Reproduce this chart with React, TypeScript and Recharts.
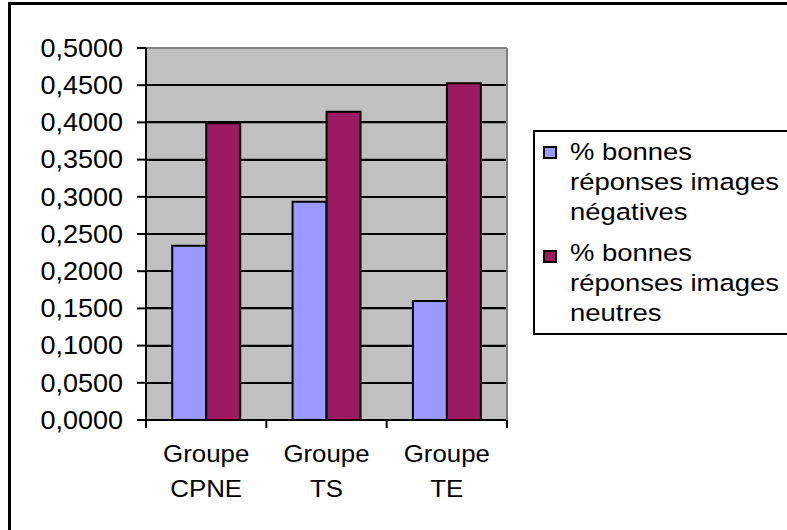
import React from 'react';
import { BarChart, Bar, XAxis, YAxis, CartesianGrid, Legend } from 'recharts';

const categories = ['Groupe CPNE', 'Groupe TS', 'Groupe TE'];
const negatives = [0.2343, 0.2934, 0.16];
const neutres = [0.3988, 0.4144, 0.4526];
const seriesNames = ['% bonnes réponses images négatives', '% bonnes réponses images neutres'];
const legendLines = [
  ['% bonnes', 'réponses images', 'négatives'],
  ['% bonnes', 'réponses images', 'neutres'],
];
const Y_MAX = 0.5;
const yTicks = [0, 0.05, 0.1, 0.15, 0.2, 0.25, 0.3, 0.35, 0.4, 0.45, 0.5];
const gridValues = [0.05, 0.1, 0.15, 0.2, 0.25, 0.3, 0.35, 0.4, 0.45];

const data = categories.map((c, i) => ({ name: c, neg: negatives[i], neu: neutres[i] }));

const W = 787;
const H = 530;
const M_TOP = 48;
const X_AXIS_H = 110;
const Y_AXIS_W = 146;
const M_RIGHT = 279;
const R_AXIS_W = 1;
const PLOT_W = W - Y_AXIS_W - M_RIGHT - R_AXIS_W;
const PLOT_H = H - M_TOP - X_AXIS_H;
const FONT = '"Liberation Sans", Arial, sans-serif';
const HALF_BAND = PLOT_W / categories.length / 2;

const fmt = (v: number) => v.toFixed(4).replace('.', ',');

const YTick = (props: any) => {
  const { x, y, payload } = props;
  return (
    <g transform={`translate(${x},${y}) scale(1.08,1)`}>
      <text x={0} y={0} dy={8.8} textAnchor="end" fontSize={25} fontFamily={FONT} fill="#000">
        {fmt(payload.value)}
      </text>
    </g>
  );
};

const XTick = (props: any) => {
  const { x, y, payload, index } = props;
  const axisY = y - 10;
  const parts = String(payload.value).split(' ');
  return (
    <g>
      <line x1={x - HALF_BAND} x2={x - HALF_BAND} y1={axisY} y2={axisY + 8} stroke="#000" strokeWidth={2} />
      {index === categories.length - 1 && (
        <line x1={x + HALF_BAND} x2={x + HALF_BAND} y1={axisY} y2={axisY + 8} stroke="#000" strokeWidth={2} />
      )}
      <g transform={`translate(${x},${y}) scale(1.1,1)`}>
        <text x={0} y={32} textAnchor="middle" fontSize={23.5} fontFamily={FONT} fill="#000">{parts[0]}</text>
        <text x={0} y={67} textAnchor="middle" fontSize={23.5} fontFamily={FONT} fill="#000">{parts[1]}</text>
      </g>
    </g>
  );
};

const GridLine = (props: any) => {
  const { x1, y1, x2, y2 } = props;
  return <line x1={x1} y1={y1} x2={x2} y2={y2} stroke="#000000" strokeWidth={1.5} />;
};

const colors = ['#9999FF', '#9C1A62'];

const LegendBox = () => (
  <div
    style={{
      boxSizing: 'border-box',
      width: 280,
      height: 205,
      border: '2px solid #000',
      background: '#fff',
      position: 'relative',
      fontFamily: FONT,
      fontSize: 24.5,
      color: '#000',
    }}
  >
    {legendLines.map((lines, i) => (
      <React.Fragment key={i}>
        <div
          style={{
            position: 'absolute',
            left: 8,
            top: i === 0 ? 14 : 118,
            width: 14,
            height: 13,
            boxSizing: 'border-box',
            border: '2px solid #000',
            background: colors[i],
          }}
        />
        <div style={{ position: 'absolute', left: 35, top: i === 0 ? 5 : 106 }}>
          {lines.map((t, j) => (
            <div
              key={j}
              style={{
                height: 30,
                lineHeight: '30px',
                whiteSpace: 'nowrap',
                transform: 'scaleX(1.12)',
                transformOrigin: 'left center',
              }}
            >
              {t}
            </div>
          ))}
        </div>
      </React.Fragment>
    ))}
  </div>
);

export default function App() {
  return (
    <div style={{ position: 'absolute', left: 0, top: 0, width: W, height: H, overflow: 'hidden', background: '#fff' }}>
      <div
        style={{
          position: 'absolute',
          left: 8,
          top: 2,
          width: 1000,
          height: 1000,
          borderLeft: '3px solid #000',
          borderTop: '3px solid #000',
        }}
      />
      <div
        style={{
          position: 'absolute',
          left: Y_AXIS_W,
          top: M_TOP - 1,
          width: PLOT_W,
          height: PLOT_H + 1,
          background: '#C0C0C0',
          borderTop: '2px solid #808080',
          boxSizing: 'border-box',
        }}
      />
      {gridValues.map((v) => (
        <div
          key={v}
          style={{
            position: 'absolute',
            left: Y_AXIS_W,
            top: M_TOP + PLOT_H * (1 - v / Y_MAX) - 1,
            width: PLOT_W,
            height: 2,
            background: '#000',
          }}
        />
      ))}
      <div style={{ position: 'absolute', left: 0, top: 0 }}>
        <BarChart
          width={W}
          height={H}
          data={data}
          margin={{ top: M_TOP, right: M_RIGHT, bottom: 0, left: 0 }}
          barCategoryGap="21.8%"
          barGap={0}
        >
          <CartesianGrid
            vertical={false}
            horizontal={(p: any) => <GridLine {...p} />}
            horizontalCoordinatesGenerator={({ offset }: any) =>
              gridValues.map((v) => offset.top + offset.height * (1 - v / Y_MAX))
            }
            stroke="#000000"
            strokeWidth={1.5}
          />
          <XAxis
            dataKey="name"
            height={X_AXIS_H}
            interval={0}
            tickLine={false}
            tickSize={8}
            tickMargin={2}
            axisLine={{ stroke: '#000', strokeWidth: 2 }}
            tick={<XTick />}
          />
          <YAxis
            width={Y_AXIS_W}
            domain={[0, Y_MAX]}
            ticks={yTicks}
            interval={0}
            tickSize={9}
            tickMargin={14}
            axisLine={{ stroke: '#000', strokeWidth: 2 }}
            tickLine={{ stroke: '#000', strokeWidth: 2 }}
            tick={<YTick />}
          />
          <YAxis
            yAxisId="right"
            orientation="right"
            width={R_AXIS_W}
            domain={[0, Y_MAX]}
            ticks={yTicks}
            tick={false}
            tickLine={false}
            axisLine={{ stroke: '#808080', strokeWidth: 2 }}
          />
          <Bar dataKey="neg" name={seriesNames[0]} fill={colors[0]} stroke="#000" strokeWidth={2} isAnimationActive={false} />
          <Bar dataKey="neu" name={seriesNames[1]} fill={colors[1]} stroke="#000" strokeWidth={2} isAnimationActive={false} />
          <Legend
            layout="vertical"
            align="center"
            verticalAlign="middle"
            content={<LegendBox />}
            wrapperStyle={{ position: 'absolute', left: 533, top: 130, width: 280, height: 205 }}
          />
        </BarChart>
      </div>
    </div>
  );
}
